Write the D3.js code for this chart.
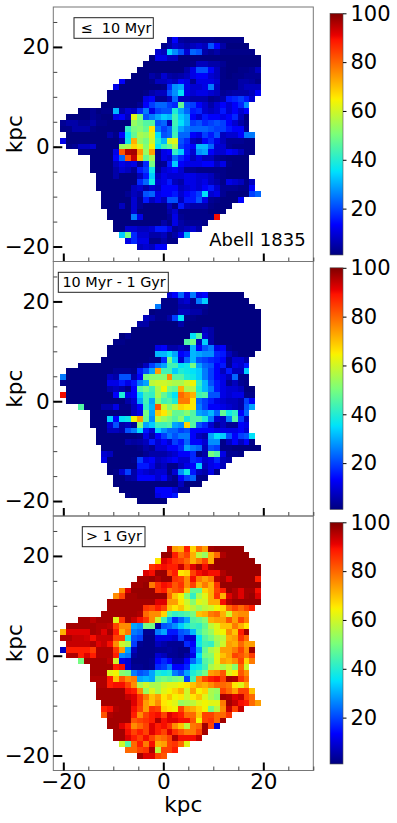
<!DOCTYPE html>
<html lang="en">
<head>
    <meta charset="UTF-8">
    <title>abell-1835</title>
    <script src="https://d3js.org/d3.v7.min.js"></script>
    <style>
        html, body { margin: 0; padding: 0; background: white; }
        svg { display: block; }
        text { font-family: "DejaVu Sans", sans-serif; fill: black; }
    </style>
</head>
<body>
<script>

    // map grid: first and last filled column of every row, top row first
    let rowStart = [18,17,16,15,14,13,12,10,9,8,8,7,3,1,0,0,1,0,1,3,5,5,5,6,6,6,7,7,7,8,8,9,9,10,11,13];

    // percentage of light per cell
    let youngValues = [
        [5,14,5,4,4,4,4,4,3,3,3,3,3],
        [3,6,10,8,6,8,10,8,22,14,6,2,2,2,2],
        [10,8,35,28,22,10,24,22,6,4,6,3,3,3,3,3,3],
        [2,12,12,8,8,2,2,2,2,2,2,2,2,2,2,2,2,2,2],
        [2,2,2,2,2,2,2,2,3,8,8,6,6,4,2,2,2,2,2,2],
        [2,2,2,2,2,2,2,2,6,12,22,22,14,8,3,2,2,3,3,4,8],
        [2,2,2,6,4,10,6,5,6,8,12,14,14,10,8,3,2,3,3,4,4,4],
        [14,2,2,2,2,3,8,8,10,8,14,12,4,12,12,12,10,3,3,3,6,6,5,3],
        [12,2,2,2,2,2,2,2,3,18,28,30,12,10,10,12,26,8,3,3,3,6,8,8,8],
        [2,2,2,2,2,2,3,6,8,8,22,28,36,12,10,12,12,10,8,4,5,6,6,6,8,14],
        [2,2,2,2,2,2,12,14,4,4,8,24,8,8,6,6,6,3,4,6,16,18,20,16,10],
        [2,2,2,2,2,2,4,14,20,24,24,20,18,48,22,20,14,10,6,10,14,10,14,18,28],
        [2,2,4,2,3,3,32,6,10,8,18,26,12,20,22,22,40,30,24,16,18,10,8,10,16,10,14,10,14],
        [2,2,2,2,4,3,2,2,12,14,8,62,50,22,26,30,34,32,44,34,30,14,10,16,14,14,12,14,18,8,2],
        [4,6,6,4,4,6,3,3,2,2,2,2,54,50,46,46,22,24,8,44,36,30,20,22,18,20,22,20,14,10,6,3],
        [3,3,6,6,6,3,2,2,2,2,2,42,50,52,48,66,26,20,24,42,30,26,24,24,24,22,20,20,16,14,14,4],
        [2,2,2,2,2,2,2,6,3,14,36,48,56,54,62,36,22,24,44,24,24,14,12,20,16,22,8,10,10,14,26,26],
        [12,2,2,2,2,2,2,2,2,2,6,38,72,54,50,60,40,32,60,62,22,18,8,6,14,18,12,8,4,4,4,3,3],
        [3,4,8,8,10,2,2,2,2,54,56,68,62,52,64,36,44,48,56,20,16,14,32,32,24,10,10,4,3,3,3,3],
        [3,3,2,2,2,2,12,82,96,97,75,54,74,4,12,14,42,34,16,10,28,30,14,10,10,14,12,8,3,3],
        [2,2,2,2,14,24,82,94,70,48,56,4,12,10,24,18,14,8,12,8,8,4,3,2,2,2,2],
        [2,2,2,2,8,12,10,12,4,18,50,3,4,16,34,14,12,12,12,14,14,8,12,3,2,2,2],
        [2,2,2,2,6,10,8,4,16,20,38,4,10,12,14,10,4,4,3,3,3,3,3,2,2,2,2],
        [2,2,2,6,2,2,2,8,16,34,8,12,10,10,10,12,12,10,10,8,4,3,2,2,2,2],
        [2,2,2,2,2,2,2,18,24,38,10,12,16,8,6,12,12,10,12,8,6,3,12,10,8,3,8],
        [2,2,2,2,2,2,8,10,6,10,8,14,14,14,8,10,12,10,14,16,10,4,4,4,3,3,14],
        [2,2,2,2,4,8,6,22,24,12,14,14,16,10,14,16,20,36,10,12,4,2,2,2,2,20,24],
        [2,2,2,2,2,10,4,16,8,12,8,22,22,8,16,16,22,12,4,3,2,2,2,14],
        [2,2,2,8,2,10,4,2,2,2,2,8,3,16,8,6,6,6,3,2,2,2],
        [2,2,2,2,10,2,2,2,2,2,6,10,3,3,3,3,3,2,2,2],
        [2,2,2,2,26,12,2,2,2,2,4,12,4,3,3,3,3,3,90],
        [2,2,2,2,2,2,2,2,6,3,12,6,4,4,4,3],
        [2,2,10,10,8,8,10,16,16,12,4,6,8,10,6],
        [34,50,18,10,10,6,6,8,3,6,12,32],
        [12,18,12,12,3,3,6,3,3],
        [8,10,8,14,14]
    ];

    let middleValues = [
        [10,14,24,12,26,12,14,2,2,2,2,2,2],
        [3,3,3,8,10,4,26,34,2,2,2,2,2,2,2],
        [26,3,3,3,6,6,4,4,4,2,2,2,2,2,2,2,2],
        [2,3,3,3,3,8,8,6,6,3,2,2,2,2,2,2,2,2,2],
        [8,6,3,3,6,20,36,3,3,2,2,2,2,2,2,2,2,2,2,2],
        [6,6,2,2,2,2,2,6,2,2,2,2,2,2,2,2,2,2,2,2,2],
        [2,2,2,2,2,2,2,2,2,2,2,2,8,6,2,2,2,2,2,2,2,2],
        [2,4,2,2,2,2,2,2,2,2,2,2,36,46,10,6,2,2,2,2,2,2,2,2],
        [3,3,2,2,2,2,2,2,2,2,2,2,46,50,8,34,6,2,2,2,2,2,2,2,2],
        [2,2,2,2,2,2,2,2,12,14,6,6,8,6,32,14,22,26,12,14,3,2,2,2,2,2],
        [2,2,2,2,2,2,2,2,32,32,36,30,14,16,32,30,28,28,18,16,8,4,2,2,2],
        [2,2,2,2,2,2,2,2,3,3,18,50,34,10,24,32,22,20,18,16,14,4,10,10,6],
        [2,2,2,2,2,2,2,2,2,2,3,8,20,26,30,44,44,36,38,50,30,24,22,14,16,4,12,10,16],
        [2,2,2,2,2,2,2,2,4,4,4,3,16,22,30,74,44,44,34,40,38,36,34,26,20,14,8,16,8,8,34],
        [26,2,2,2,2,2,2,2,8,6,22,22,6,14,50,52,52,52,76,46,46,40,38,34,26,20,14,12,8,24,3,3],
        [3,2,2,2,2,2,2,2,12,12,16,12,16,26,30,58,60,60,58,56,56,60,64,42,32,22,16,12,4,8,4,3],
        [2,2,2,2,2,2,2,6,8,6,3,14,46,50,44,56,64,50,48,72,56,58,40,32,26,16,12,10,10,8,2,2],
        [90,2,2,2,2,2,2,2,2,14,40,12,14,34,44,42,56,48,42,36,80,76,72,44,46,22,22,12,10,12,12,3,3],
        [2,2,2,2,2,2,2,2,2,2,6,10,30,44,30,52,44,46,40,78,78,66,24,20,16,12,10,8,8,6,20,14],
        [46,2,2,2,6,6,12,3,3,8,14,42,32,82,60,52,58,68,66,66,26,20,14,14,12,10,8,6,22,30],
        [2,2,2,2,2,2,2,8,12,50,30,70,66,58,48,48,52,46,30,28,32,24,48,38,42,14,24],
        [2,2,2,34,14,36,38,64,74,48,28,58,54,50,46,52,40,46,46,40,26,10,8,26,46,20,8],
        [2,2,2,10,22,6,8,4,52,30,34,44,44,46,30,28,68,46,22,18,10,4,8,4,4,14,12],
        [2,2,8,8,6,22,26,36,16,10,34,28,24,24,20,22,14,14,14,14,12,12,12,12,14,10],
        [2,2,2,2,2,2,2,3,12,6,14,20,26,22,26,26,14,8,6,30,36,34,22,14,20,22,36],
        [2,2,2,2,2,6,5,6,8,16,10,14,10,20,16,24,14,14,10,28,28,3,8,14,8,14,3],
        [2,2,2,2,2,2,3,6,4,10,10,14,14,18,30,26,24,8,22,20,3,3,2,2,2,2,2],
        [10,8,2,2,2,2,2,4,6,6,6,8,10,14,14,18,3,6,50,46,12,4,4,3],
        [12,2,2,2,2,3,20,12,14,8,10,12,14,10,10,18,16,10,12,18,8,6],
        [2,2,2,2,2,16,16,12,6,8,3,3,8,12,14,34,8,12,14,8],
        [2,3,10,20,6,12,10,8,10,10,3,10,28,38,16,8,6,12,3],
        [2,2,5,6,14,14,14,10,14,6,3,14,20,24,3,3],
        [2,2,2,2,2,2,2,2,2,2,2,8,2,2,2],
        [2,2,2,2,2,2,14,14,14,10,4,4],
        [3,2,2,2,2,12,14,14,16],
        [2,2,2,2,2]
    ];

    let oldValues = [
        [95,74,72,88,68,80,74,97,98,98,98,98,98],
        [98,98,88,80,84,72,58,54,72,80,96,98,98,98,98],
        [66,92,90,86,84,80,72,78,84,72,98,98,98,98,98,98,98],
        [86,88,90,88,88,94,84,92,97,90,97,98,98,98,98,98,98,98,98],
        [92,90,98,98,84,88,66,68,84,90,92,90,90,96,98,98,98,98,98,98],
        [97,97,98,96,98,98,86,84,76,90,78,74,78,95,97,92,98,98,98,98,88],
        [97,97,98,78,86,90,88,82,86,76,84,72,78,72,86,98,98,98,98,98,98,98],
        [76,92,98,98,98,98,86,88,78,82,84,70,48,48,68,72,84,88,98,96,92,97,97,90],
        [76,84,97,97,98,98,98,98,98,80,70,64,52,42,56,62,72,86,72,92,96,92,97,98,92],
        [97,97,97,97,97,97,97,97,92,92,74,74,66,60,52,62,60,72,72,90,96,98,98,98,98,98],
        [97,97,97,97,97,97,86,84,88,84,70,66,70,62,58,54,58,60,64,68,80,84,80,84,88],
        [97,97,97,97,97,97,96,80,76,76,68,46,42,44,46,50,70,72,78,80,72,60,74,76,76],
        [97,97,95,97,97,97,62,86,97,94,90,86,76,60,44,30,18,24,30,46,48,52,72,74,74,82,74,84,78],
        [97,97,97,97,97,96,96,95,84,76,76,30,28,50,50,5,22,24,28,34,40,44,42,48,58,62,70,70,78,72,66],
        [72,92,92,92,92,97,96,92,97,88,72,78,26,24,4,4,26,30,16,16,22,24,32,44,50,54,62,64,76,70,88,97],
        [96,96,94,94,93,90,94,94,94,84,84,40,22,20,3,3,12,12,12,10,20,10,10,36,46,50,56,58,72,74,86,80],
        [94,94,94,94,96,92,94,90,76,60,56,20,4,3,3,8,6,4,4,4,18,14,38,44,42,54,60,74,72,80,74,74],
        [8,88,88,88,88,85,96,96,96,86,74,30,8,3,3,3,4,4,5,4,3,3,16,30,48,56,60,74,74,78,84,76,97],
        [96,96,88,92,88,96,96,96,88,28,26,5,3,3,3,10,8,4,4,3,6,12,36,50,52,62,70,74,84,82,78,85],
        [50,97,97,97,97,95,60,12,10,3,3,3,4,14,18,14,6,6,14,24,32,46,50,62,74,72,76,84,68,78],
        [97,97,97,97,88,90,10,4,4,3,4,18,20,26,14,14,18,36,38,44,56,60,56,60,52,80,60],
        [97,97,97,62,64,52,50,26,22,24,30,40,38,40,26,22,30,40,44,50,74,76,82,62,66,82,76],
        [96,96,96,88,70,82,76,78,30,32,30,48,50,48,50,52,20,44,76,84,88,90,84,97,96,86,80],
        [96,96,88,90,90,84,76,56,60,56,56,60,62,62,64,66,70,74,72,76,80,80,78,66,62,72],
        [97,97,97,97,97,90,88,76,54,62,56,62,64,68,72,60,74,64,68,56,54,84,80,74,84,84,70],
        [97,97,97,97,97,94,92,86,78,70,74,66,70,64,66,60,66,70,62,56,52,97,96,92,94,84,80],
        [97,97,97,97,97,92,86,74,70,76,66,64,62,54,56,58,62,64,62,62,78,97,94,90,88,80,74],
        [88,90,96,97,97,90,84,74,86,84,68,66,64,84,74,72,68,64,50,58,76,94,84,94],
        [82,96,97,97,97,88,76,84,88,90,84,92,90,88,80,80,70,84,84,80,80,86],
        [97,97,97,97,82,84,86,88,96,90,92,92,90,90,82,64,84,86,80,97],
        [97,97,92,88,76,80,84,92,88,90,86,76,70,58,78,80,97,84,10],
        [97,97,90,84,88,84,92,88,84,92,86,82,78,78,84,97],
        [97,97,92,88,84,90,84,78,80,84,96,90,90,90,94],
        [60,46,80,88,78,90,72,74,84,86,80,62],
        [80,80,84,86,96,58,84,84,88],
        [97,92,92,84,82]
    ];

    let panelLabels = ["\u2264  10 Myr", "10 Myr - 1 Gyr", "> 1 Gyr"];
    let xTicks = [-20, 0, 20];
    let yTicks = [-20, 0, 20];
    let xMinorTicks = [-20, -15, -10, -5, 0, 5, 10, 15, 20, 25, 30];
    let yMinorTicks = [-20, -15, -10, -5, 0, 5, 10, 15, 20, 25];
    let colorTicks = [20, 40, 60, 80, 100];

    // matplotlib jet
    let jetStops = [0, 0.11, 0.125, 0.34, 0.35, 0.5, 0.64, 0.65, 0.89, 0.91, 1];
    let jetColors = ["#00007f", "#0000ee", "#0000ff", "#00dbff", "#00e5f7", "#7cff79", "#f7f400", "#ffea00", "#ff1300", "#e80000", "#7f0000"];

    let width = 397;
    let height = 823;
    let cellSize = 1.184;
    let gridLeft = -20.66;
    let gridTop = 21.95;

    let axisLeft = 53.3;
    let axisRight = 313.3;
    let panelHeight = 254.5;
    let panelTops = [7, 261.5, 516];
    let barLeft = 330;
    let barWidth = 13;
    let barTops = [13.3, 267.8, 522.3];
    let barHeight = 241.7;

    // where the white boxes with the age bins sit
    let boxes = [
        {x: 74, y: 17.7, w: 79.3, h: 20.6, tx: 80.6},
        {x: 58.3, y: 272.3, w: 110, h: 20, tx: 62.4},
        {x: 82.3, y: 526.7, w: 62.7, h: 20, tx: 86}
    ];

    let svg = d3.select("body").append("svg")
        .attr("width", width)
        .attr("height", height);

    svg.append("rect")
        .attr("width", "100%")
        .attr("height", "100%")
        .attr("fill", "white");

    let defs = svg.append("defs");

    // the picture is a little soft, the cells are not razor sharp
    defs.append("filter")
        .attr("id", "soft")
        .attr("x", "-5%").attr("y", "-5%")
        .attr("width", "110%").attr("height", "110%")
        .append("feGaussianBlur")
        .attr("stdDeviation", 0.35);

    let jet = d3.scaleLinear()
        .domain(jetStops)
        .range(jetColors)
        .interpolate(d3.interpolateRgb);

    // 2 is the lowest value in the grids and is pure navy in the picture
    let colorScale = function (v) {
        return jet((v - 2) / 98);
    }

    let gradient = defs.append("linearGradient")
        .attr("id", "jet-bar")
        .attr("x1", 0).attr("y1", 1)
        .attr("x2", 0).attr("y2", 0);

    gradient.selectAll("stop")
        .data(jetStops)
        .enter()
        .append("stop")
        .attr("offset", d => d)
        .attr("stop-color", (d, i) => jetColors[i]);

    let x = d3.scaleLinear().domain([-22, 30]).range([axisLeft, axisRight]);

    function drawPanel(values, index) {
        let top = panelTops[index];
        let y = d3.scaleLinear().domain([28, -23]).range([top, top + panelHeight]);

        let cells = [];
        values.forEach(function (row, r) {
            row.forEach(function (v, i) {
                cells.push({col: rowStart[r] + i, row: r, value: v});
            });
        });

        svg.append("g")
            .attr("filter", "url(#soft)")
            .attr("shape-rendering", "crispEdges")
            .selectAll("rect")
            .data(cells)
            .enter()
            .append("rect")
            .attr("x", d => x(gridLeft + d.col * cellSize))
            .attr("y", d => y(gridTop - d.row * cellSize))
            .attr("width", x(cellSize) - x(0))
            .attr("height", y(0) - y(cellSize))
            .attr("fill", d => colorScale(d.value));

        svg.append("rect")
            .attr("x", axisLeft)
            .attr("y", top)
            .attr("width", axisRight - axisLeft)
            .attr("height", panelHeight)
            .attr("fill", "none")
            .attr("stroke", "#777")
            .attr("stroke-width", 1);

        // minor ticks first, the major ones go over them
        let minorX = svg.append("g")
            .attr("transform", "translate(0," + (top + panelHeight) + ")")
            .call(d3.axisBottom(x).tickValues(xMinorTicks).tickSize(-4).tickFormat(""));
        let minorY = svg.append("g")
            .attr("transform", "translate(" + axisLeft + ",0)")
            .call(d3.axisLeft(y).tickValues(yMinorTicks).tickSize(-4).tickFormat(""));

        minorX.select(".domain").remove();
        minorY.select(".domain").remove();
        minorX.selectAll("line").attr("stroke", "#444");
        minorY.selectAll("line").attr("stroke", "#444");

        let majorX = svg.append("g")
            .attr("transform", "translate(0," + (top + panelHeight) + ")")
            .call(d3.axisBottom(x).tickValues(xTicks).tickSize(-8).tickPadding(3));
        let majorY = svg.append("g")
            .attr("transform", "translate(" + axisLeft + ",0)")
            .call(d3.axisLeft(y).tickValues(yTicks).tickSize(-9).tickPadding(3.5));

        majorX.select(".domain").remove();
        majorY.select(".domain").remove();
        majorX.selectAll("line").attr("stroke", "black").attr("stroke-width", 2);
        majorY.selectAll("line").attr("stroke", "black").attr("stroke-width", 2);
        majorX.selectAll("text").style("font-size", "21.5px");
        majorY.selectAll("text").style("font-size", "21.5px");
        majorX.attr("font-family", null);
        majorY.attr("font-family", null);

        // x labels only under the last panel
        if (index < 2) majorX.selectAll("text").remove();

        svg.append("text")
            .attr("transform", "translate(22," + (top + panelHeight / 2) + ") rotate(-90)")
            .attr("text-anchor", "middle")
            .style("font-size", "21.5px")
            .text("kpc");

        let box = boxes[index];
        svg.append("rect")
            .attr("x", box.x)
            .attr("y", box.y)
            .attr("width", box.w)
            .attr("height", box.h)
            .attr("fill", "white")
            .attr("stroke", "#222")
            .attr("stroke-width", 1);
        svg.append("text")
            .attr("x", box.tx)
            .attr("y", box.y + box.h - 5.5)
            .attr("xml:space", "preserve")
            .style("white-space", "pre")
            .style("font-size", "14.4px")
            .text(panelLabels[index]);

        // colour bar
        let barTop = barTops[index];
        let barScale = d3.scaleLinear().domain([1, 100]).range([barTop + barHeight, barTop]);

        svg.append("rect")
            .attr("x", barLeft)
            .attr("y", barTop)
            .attr("width", barWidth)
            .attr("height", barHeight)
            .attr("fill", "url(#jet-bar)")
            .attr("stroke", "#555")
            .attr("stroke-width", 0.6);

        let barAxis = svg.append("g")
            .attr("transform", "translate(" + (barLeft + barWidth) + ",0)")
            .call(d3.axisRight(barScale).tickValues(colorTicks).tickSize(3.5).tickPadding(4));

        barAxis.select(".domain").remove();
        barAxis.attr("font-family", null);
        barAxis.selectAll("line").attr("stroke", "black").attr("stroke-width", 1);
        barAxis.selectAll("text").style("font-size", "21px");
    }

    [youngValues, middleValues, oldValues].forEach(drawPanel);

    svg.append("text")
        .attr("x", 209.3)
        .attr("y", 246)
        .style("font-size", "18px")
        .text("Abell 1835");

    svg.append("text")
        .attr("x", (axisLeft + axisRight) / 2)
        .attr("y", 812)
        .attr("text-anchor", "middle")
        .style("font-size", "21.5px")
        .text("kpc");

</script>
</body>
</html>
